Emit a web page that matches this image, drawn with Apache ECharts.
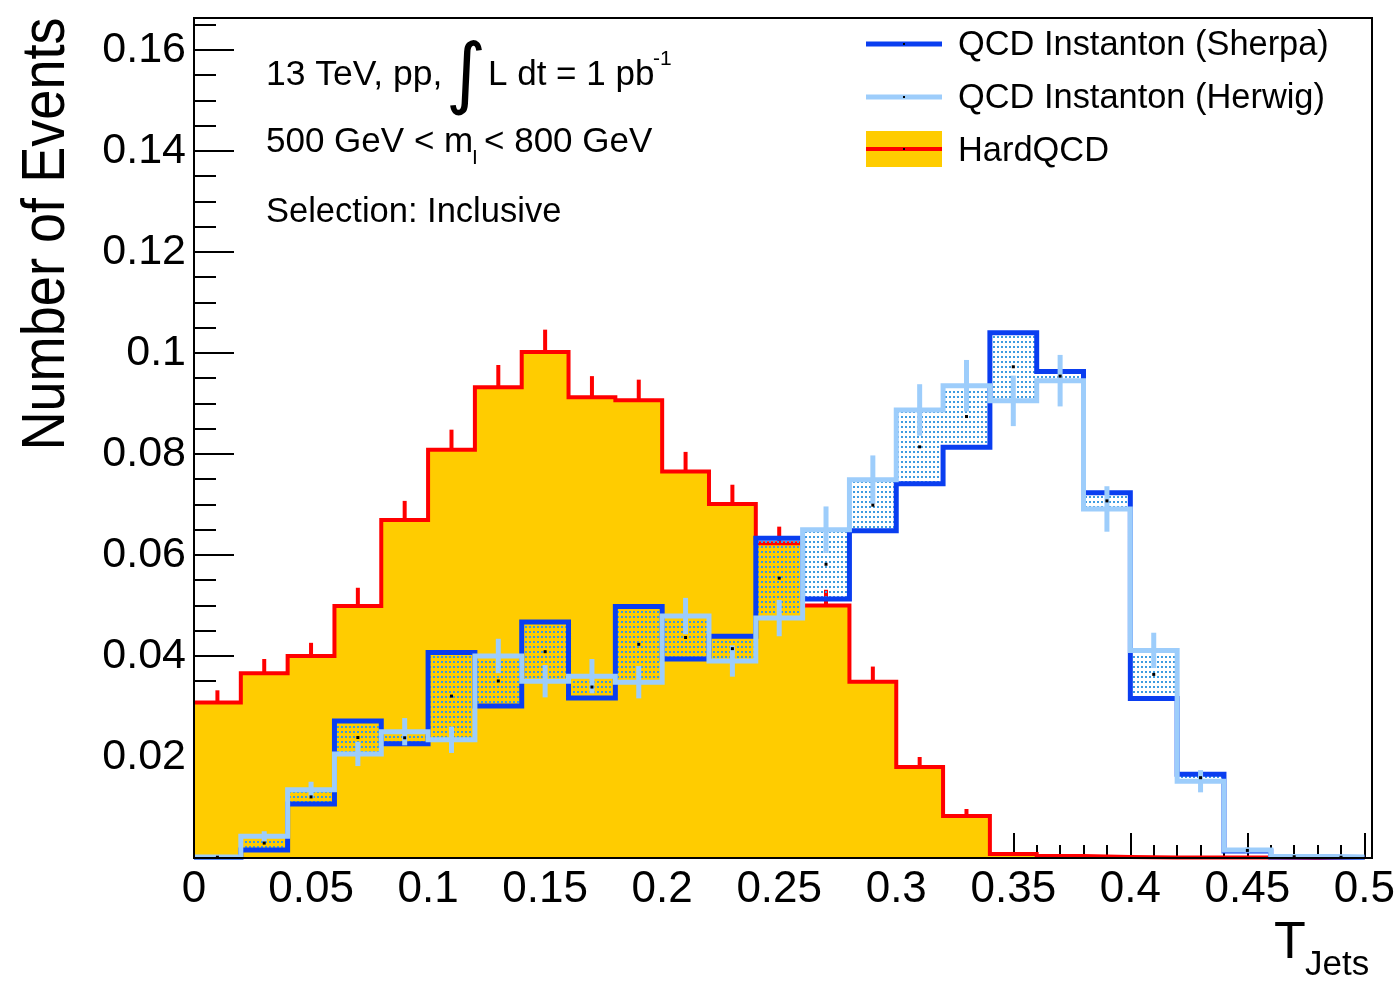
<!DOCTYPE html>
<html>
<head>
<meta charset="utf-8">
<script src="https://cdn.jsdelivr.net/npm/echarts@6/dist/echarts.min.js"></script>
<style>
html,body{margin:0;padding:0;background:#fff;}
#chart{width:1398px;height:981px;}
</style>
</head>
<body>
<div id="chart"></div>
<script>
// ---------------- data ----------------
const binEdges = [0,0.02,0.04,0.06,0.08,0.10,0.12,0.14,0.16,0.18,0.20,0.22,0.24,0.26,0.28,0.30,0.32,0.34,0.36,0.38,0.40,0.42,0.44,0.46,0.48,0.50];
const hardQCD = [0.0308,0.0366,0.0400,0.0499,0.0669,0.0808,0.0932,0.1002,0.0912,0.0906,0.0765,0.0701,0.0623,0.0500,0.0349,0.0180,0.0083,0.0008,0.0004,0.0002,0.0001,0.0001,0.0001,0,0];
const hardQCDErr = [0.0024,0.0028,0.0026,0.0036,0.0038,0.0040,0.0044,0.0044,0.0042,0.0041,0.0039,0.0038,0.0033,0.0031,0.0030,0.0020,0.0014,0.0004,0.0002,0.0001,0,0,0,0,0];
const sherpa = [0.0001,0.0016,0.0107,0.0271,0.0226,0.0407,0.0301,0.0467,0.0317,0.0498,0.0394,0.0439,0.0633,0.0513,0.0648,0.0741,0.0813,0.1040,0.0963,0.0723,0.0316,0.0166,0.0014,0.0002,0.0001];
const herwig = [0.0002,0.0043,0.0135,0.0206,0.0250,0.0234,0.0400,0.0350,0.0360,0.0348,0.0479,0.0390,0.0475,0.0650,0.0749,0.0887,0.0935,0.0905,0.0945,0.0691,0.0411,0.0152,0.0016,0.0003,0.0002];
const herwigErr = [0,0.0010,0.0016,0.0024,0.0027,0.0026,0.0034,0.0032,0.0034,0.0032,0.0036,0.0031,0.0036,0.0046,0.0048,0.0051,0.0051,0.0050,0.0051,0.0045,0.0035,0.0022,0.0005,0.0001,0.0001];
const xTickValues = [0,0.05,0.1,0.15,0.2,0.25,0.3,0.35,0.4,0.45,0.5];
const yTickValues = [0.02,0.04,0.06,0.08,0.1,0.12,0.14,0.16];
const legendNames = ['QCD Instanton (Sherpa)','QCD Instanton (Herwig)','HardQCD'];

// ---------------- styles ----------------
const C_SHERPA = '#0a3ef0';
const C_HERWIG = '#9dcdfb';
const C_FILL = '#ffcc00';
const C_RED = '#ff0000';
const FONT = '"Liberation Sans", Arial, Helvetica, sans-serif';

const pc = document.createElement('canvas');
pc.width = 4; pc.height = 5;
const pg = pc.getContext('2d');
pg.fillStyle = '#3d9be0';
pg.fillRect(1, 1, 2, 2);
const pattern = {image: pc, repeat: 'repeat'};

function stepData(vals) {
  const d = vals.map((v, i) => [binEdges[i], v]);
  d.push([binEdges[vals.length], vals[vals.length - 1]]);
  return d;
}
const binRows = hardQCD.map((v, i) => [binEdges[i], binEdges[i + 1], v, hardQCDErr[i], sherpa[i], herwig[i], herwigErr[i]]);

const chart = echarts.init(document.getElementById('chart'), null, {renderer: 'canvas'});

const gridL = 194, gridT = 18, gridW = 1178, gridH = 840;

const option = {
  animation: false,
  backgroundColor: '#fff',
  grid: {left: gridL, top: gridT, width: gridW, height: gridH, containLabel: false},
  xAxis: [
    {type: 'value', min: 0, max: 0.5, interval: 0.05, position: 'bottom',
     axisLine: {show: true, onZero: false, lineStyle: {color: '#000', width: 2}},
     axisTick: {show: true, inside: true, length: 25, lineStyle: {color: '#000', width: 2}},
     axisLabel: {show: true, color: '#000', fontSize: 44, fontFamily: FONT, margin: 10,
       formatter: v => (xTickValues.some(t => Math.abs(t - v) < 1e-9) ? String(+v.toFixed(2)) : '')},
     splitLine: {show: false}},
    {type: 'value', min: 0, max: 0.5, interval: 0.01, position: 'bottom', offset: 0,
     axisLine: {show: false},
     axisTick: {show: true, inside: true, length: 13, lineStyle: {color: '#000', width: 2}},
     axisLabel: {show: false}, splitLine: {show: false}}
  ],
  yAxis: [
    {type: 'value', min: 0, max: 0.1663, interval: 0.02, position: 'left',
     axisLine: {show: true, onZero: false, lineStyle: {color: '#000', width: 2}},
     axisTick: {show: true, inside: true, length: 40, lineStyle: {color: '#000', width: 2}},
     axisLabel: {show: true, color: '#000', fontSize: 43, fontFamily: FONT, margin: 8,
       formatter: v => (yTickValues.some(t => Math.abs(t - v) < 1e-9) ? String(+v.toFixed(2)) : '')},
     splitLine: {show: false}},
    {type: 'value', min: 0, max: 0.1663, interval: 0.005, position: 'left', offset: 0,
     axisLine: {show: false},
     axisTick: {show: true, inside: true, length: 22, lineStyle: {color: '#000', width: 2}},
     axisLabel: {show: false}, splitLine: {show: false}}
  ],
  series: [
    // HardQCD error bars (lower half hidden by fill drawn afterwards)
    {type: 'custom', name: 'hardErr', z: 3, data: binRows, encode: {x: [0, 1], y: 2},
     renderItem: (params, api) => {
       const xc = (api.value(0) + api.value(1)) / 2;
       const v = api.value(2), e = api.value(3);
       if (e <= 0) return null;
       const a = api.coord([xc, v - e]), b = api.coord([xc, v + e]);
       return {type: 'line', shape: {x1: a[0], y1: a[1], x2: b[0], y2: b[1]},
               style: {stroke: C_RED, lineWidth: 4}};
     }},
    // HardQCD filled step histogram
    {type: 'line', name: 'HardQCD', z: 4, data: stepData(hardQCD), step: 'end', symbol: 'none',
     lineStyle: {color: C_RED, width: 4, cap: 'butt', join: 'miter'},
     areaStyle: {color: C_FILL, opacity: 1}, itemStyle: {color: C_RED}},
    // band between Sherpa and Herwig
    {type: 'custom', name: 'band', z: 5, data: binRows, encode: {x: [0, 1], y: [4, 5]},
     renderItem: (params, api) => {
       const s = api.value(4), h = api.value(5);
       const p0 = api.coord([api.value(0), Math.max(s, h)]);
       const p1 = api.coord([api.value(1), Math.min(s, h)]);
       return {type: 'rect', shape: {x: p0[0], y: p0[1], width: p1[0] - p0[0], height: Math.max(1, p1[1] - p0[1])},
               style: {fill: pattern}};
     }},
    // Sherpa step
    {type: 'line', name: legendNames[0], z: 6, data: stepData(sherpa), step: 'end', symbol: 'none',
     lineStyle: {color: C_SHERPA, width: 5, cap: 'butt', join: 'miter'}},
    // Herwig step
    {type: 'line', name: legendNames[1], z: 7, data: stepData(herwig), step: 'end', symbol: 'none',
     lineStyle: {color: C_HERWIG, width: 5, cap: 'butt', join: 'miter'}},
    // Herwig error bars
    {type: 'custom', name: 'herwigErr', z: 8, data: binRows, encode: {x: [0, 1], y: 5},
     renderItem: (params, api) => {
       const xc = (api.value(0) + api.value(1)) / 2;
       const h = api.value(5), e = api.value(6);
       if (e <= 0) return null;
       const a = api.coord([xc, h - e]), b = api.coord([xc, h + e]);
       return {type: 'line', shape: {x1: a[0], y1: a[1], x2: b[0], y2: b[1]},
               style: {stroke: C_HERWIG, lineWidth: 5}};
     }},
    // centre markers of band
    {type: 'custom', name: 'markers', z: 9, data: binRows, encode: {x: [0, 1], y: [4, 5]},
     renderItem: (params, api) => {
       const xc = (api.value(0) + api.value(1)) / 2;
       const m = (api.value(4) + api.value(5)) / 2;
       const p = api.coord([xc, m]);
       return {type: 'rect', shape: {x: p[0] - 1.5, y: p[1] - 1.5, width: 3, height: 3}, style: {fill: '#000'}};
     }}
  ],
  graphic: [
    // frame
    {type: 'rect', z: 100, silent: true, shape: {x: gridL, y: gridT, width: gridW, height: gridH},
     style: {fill: 'none', stroke: '#000', lineWidth: 2}},
    // y title
    {type: 'text', z: 100, x: 47, y: 234, rotation: Math.PI / 2, scaleX: 0.873,
     style: {text: 'Number of Events', font: '62px ' + FONT, fill: '#000', textAlign: 'center', textVerticalAlign: 'middle'}},
    // x title
    {type: 'text', z: 100, x: 1274, y: 944,
     style: {text: 'T', font: '52px ' + FONT, fill: '#000', textAlign: 'left', textVerticalAlign: 'middle'}},
    {type: 'text', z: 100, x: 1305, y: 965,
     style: {text: 'Jets', font: '35px ' + FONT, fill: '#000', textAlign: 'left', textVerticalAlign: 'middle'}},
    // annotations
    {type: 'text', z: 100, x: 266, y: 75,
     style: {text: '13 TeV, pp,', font: '35.5px ' + FONT, fill: '#000', textAlign: 'left', textVerticalAlign: 'middle'}},
    {type: 'text', z: 100, x: 466, y: 79,
     style: {text: '\u222B', font: '78px "DejaVu Sans", sans-serif', fill: '#000', textAlign: 'center', textVerticalAlign: 'middle'}},
    {type: 'text', z: 100, x: 488, y: 75,
     style: {text: 'L dt = 1 pb', font: '35px ' + FONT, fill: '#000', textAlign: 'left', textVerticalAlign: 'middle'}},
    {type: 'text', z: 100, x: 653, y: 59,
     style: {text: '-1', font: '21px ' + FONT, fill: '#000', textAlign: 'left', textVerticalAlign: 'middle'}},
    {type: 'text', z: 100, x: 266, y: 142,
     style: {text: '500 GeV < m', font: '35px ' + FONT, fill: '#000', textAlign: 'left', textVerticalAlign: 'middle'}},
    {type: 'text', z: 100, x: 472, y: 158,
     style: {text: 'I', font: '21px ' + FONT, fill: '#000', textAlign: 'left', textVerticalAlign: 'middle'}},
    {type: 'text', z: 100, x: 484, y: 142,
     style: {text: '< 800 GeV', font: '35px ' + FONT, fill: '#000', textAlign: 'left', textVerticalAlign: 'middle'}},
    {type: 'text', z: 100, x: 266, y: 212,
     style: {text: 'Selection: Inclusive', font: '34.5px ' + FONT, fill: '#000', textAlign: 'left', textVerticalAlign: 'middle'}},
    // legend
    {type: 'line', z: 100, shape: {x1: 866, y1: 44, x2: 942, y2: 44}, style: {stroke: C_SHERPA, lineWidth: 5}},
    {type: 'rect', z: 101, shape: {x: 903, y: 43, width: 2, height: 2}, style: {fill: '#000'}},
    {type: 'text', z: 100, x: 958, y: 46,
     style: {text: legendNames[0], font: '34.4px ' + FONT, fill: '#000', textAlign: 'left', textVerticalAlign: 'middle'}},
    {type: 'line', z: 100, shape: {x1: 866, y1: 97, x2: 942, y2: 97}, style: {stroke: C_HERWIG, lineWidth: 5}},
    {type: 'rect', z: 101, shape: {x: 903, y: 96, width: 2, height: 2}, style: {fill: '#000'}},
    {type: 'text', z: 100, x: 958, y: 99,
     style: {text: legendNames[1], font: '34.4px ' + FONT, fill: '#000', textAlign: 'left', textVerticalAlign: 'middle'}},
    {type: 'rect', z: 100, shape: {x: 866, y: 131, width: 76, height: 36}, style: {fill: C_FILL}},
    {type: 'line', z: 101, shape: {x1: 866, y1: 149, x2: 942, y2: 149}, style: {stroke: C_RED, lineWidth: 4}},
    {type: 'rect', z: 102, shape: {x: 903, y: 148, width: 2, height: 2}, style: {fill: '#000'}},
    {type: 'text', z: 100, x: 958, y: 152,
     style: {text: legendNames[2], font: '34.4px ' + FONT, fill: '#000', textAlign: 'left', textVerticalAlign: 'middle'}}
  ]
};
chart.setOption(option);
</script>
</body>
</html>
